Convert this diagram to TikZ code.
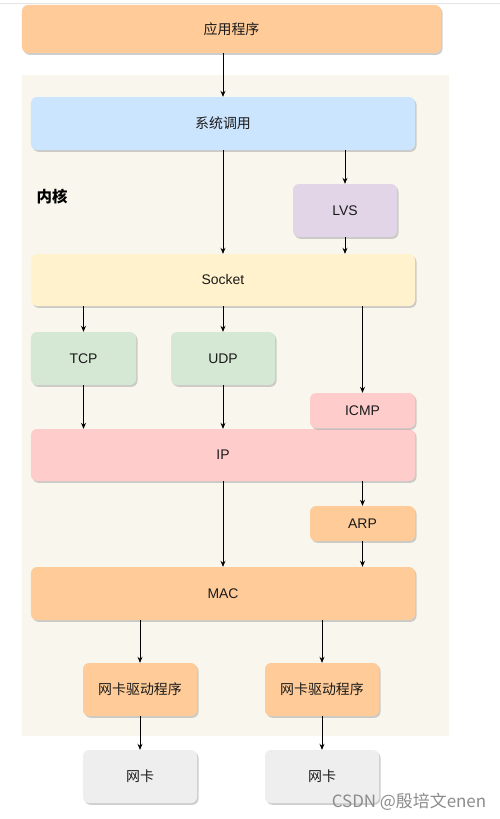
\documentclass[tikz,border=0pt]{standalone}
\usepackage{fontspec}
\setmainfont{Liberation Sans}
\newfontfamily\cjk{Noto Sans CJK SC}
\usetikzlibrary{shadows,arrows.meta}
\definecolor{peach}{HTML}{FFCC99}
\definecolor{kbg}{HTML}{F9F7ED}
\definecolor{sysblue}{HTML}{CCE5FF}
\definecolor{lvspurple}{HTML}{E1D5E7}
\definecolor{sockyellow}{HTML}{FFF2CC}
\definecolor{protogreen}{HTML}{D5E8D4}
\definecolor{ippink}{HTML}{FFCCCC}
\definecolor{nicgray}{HTML}{EEEEEE}
\definecolor{txt}{HTML}{1A1A1A}
\definecolor{wm}{HTML}{8C8C8C}
\begin{document}
\begin{tikzpicture}[x=1bp,y=-1bp,
  box/.style={rounded corners=6bp, draw=none, inner sep=0pt, text=txt,
    font=\fontsize{14}{16}\selectfont,
    drop shadow={shadow xshift=1.5bp, shadow yshift=-1.8bp, fill=black!35, opacity=0.55}},
  arr/.style={draw=black, line width=0.8bp, -{Stealth[length=6bp,width=5bp]}}
]
\useasboundingbox (0,0) rectangle (500,819);
\fill[white] (0,0) rectangle (500,819);
\draw[black!10, line width=0.8bp] (0,3) -- (500,3);

% kernel background
\node[fill=kbg, inner sep=0pt, minimum width=427bp, minimum height=661bp] (kernel) at (235.5,405.5) {};
\node[font=\cjk\bfseries\fontsize{15.5}{18}\selectfont, text=black, inner sep=0pt] (klabel) at (52,197) {内核};

\node[box, fill=peach, minimum width=419bp, minimum height=48bp] (app) at (231.5,29) {\cjk 应用程序};
\node[box, fill=sysblue, minimum width=384bp, minimum height=53bp] (sys) at (223,123.5) {\cjk 系统调用};
\node[box, fill=lvspurple, minimum width=104bp, minimum height=53bp] (lvs) at (345,210.5) {LVS};
\node[box, fill=sockyellow, minimum width=384bp, minimum height=52bp] (socket) at (223,280) {Socket};
\node[box, fill=protogreen, minimum width=105bp, minimum height=53bp] (tcp) at (83.5,358.5) {TCP};
\node[box, fill=protogreen, minimum width=104bp, minimum height=53bp] (udp) at (223,358.5) {UDP};
\node[box, fill=ippink, minimum width=384bp, minimum height=52bp] (ip) at (223,455) {IP};
\node[box, fill=ippink, minimum width=105bp, minimum height=35bp] (icmp) at (362.5,410.5) {ICMP};
\node[box, fill=peach, minimum width=105bp, minimum height=35bp] (arp) at (362.5,523.5) {ARP};
\node[box, fill=peach, minimum width=384bp, minimum height=53bp] (mac) at (223,593.5) {MAC};
\node[box, fill=peach, minimum width=114bp, minimum height=53bp] (drv1) at (140,689.5) {\cjk 网卡驱动程序};
\node[box, fill=peach, minimum width=114bp, minimum height=53bp] (drv2) at (322,689.5) {\cjk 网卡驱动程序};
\node[box, fill=nicgray, minimum width=114bp, minimum height=53bp] (nic1) at (140,776.5) {\cjk 网卡};
\node[box, fill=nicgray, minimum width=114bp, minimum height=53bp] (nic2) at (322,776.5) {\cjk 网卡};

\draw[arr] (app.south -| sys.north) -- (sys.north);
\draw[arr] (sys.south -| lvs.north) -- (lvs.north);
\draw[arr] (sys.south) -- (socket.north);
\draw[arr] (lvs.south) -- (socket.north -| lvs.south);
\draw[arr] (socket.south -| tcp.north) -- (tcp.north);
\draw[arr] (socket.south) -- (udp.north);
\draw[arr] (socket.south -| icmp.north) -- (icmp.north);
\draw[arr] (tcp.south) -- (tcp.south |- ip.north);
\draw[arr] (udp.south) -- (ip.north);
\draw[arr] (ip.south -| arp.north) -- (arp.north);
\draw[arr] (ip.south) -- (mac.north);
\draw[arr] (arp.south) -- (mac.north -| arp.south);
\draw[arr] (mac.south -| drv1.north) -- (drv1.north);
\draw[arr] (mac.south -| drv2.north) -- (drv2.north);
\draw[arr] (drv1.south) -- (nic1.north);
\draw[arr] (drv2.south) -- (nic2.north);

\node[font=\cjk\fontsize{17}{19}\selectfont, text=wm, inner sep=0pt] (wmark) at (409,802) {CSDN @殷培文enen};
\end{tikzpicture}
\end{document}
